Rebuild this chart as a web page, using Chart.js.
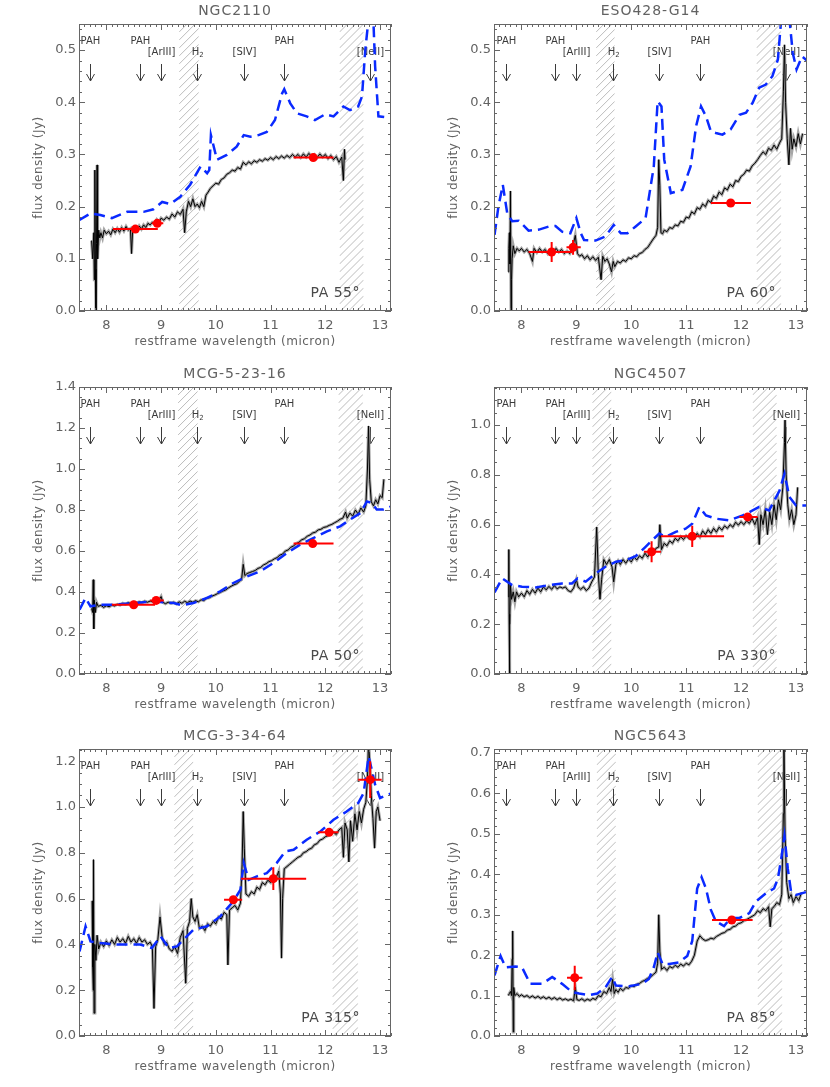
<!DOCTYPE html>
<html>
<head>
<meta charset="utf-8">
<script src="https://cdn.jsdelivr.net/npm/chart.js@4.4.1/dist/chart.umd.min.js"></script>
<style>
  body { margin: 0; background: #fff; width: 830px; height: 1087px; position: relative; overflow: hidden; }
  canvas { position: absolute; }
</style>
</head>
<body>
<canvas id="p1"></canvas>
<canvas id="p2"></canvas>
<canvas id="p3"></canvas>
<canvas id="p4"></canvas>
<canvas id="p5"></canvas>
<canvas id="p6"></canvas>
<script>
// emission features marked in every panel
const lineWave = [7.71, 8.61, 8.99, 9.66, 10.51, 11.25, 12.81];
const lineName = ['PAH', 'PAH', '[ArIII]', 'H2', '[SIV]', 'PAH', '[NeII]'];
const lineRow = [0, 0, 1, 1, 1, 0, 1];
const xTicks = [8, 9, 10, 11, 12, 13];

// ---- NGC2110 ----
const n2110Wave = [7.73,7.75,7.77,7.78,7.79,7.80,7.81,7.82,7.83,7.84,7.86,7.88,7.90,7.93,7.96,
  8.00,8.04,8.08,8.12,8.16,8.20,8.24,8.28,8.32,8.36,8.40,8.44,8.46,8.48,8.52,8.56,8.60,8.64,8.68,8.72,8.76,8.80,8.84,8.88,8.92,8.96,
  9.00,9.05,9.10,9.15,9.20,9.25,9.30,9.35,9.40,9.43,9.46,9.50,9.54,9.58,9.62,9.66,9.70,9.74,9.78,9.82,9.86,9.90,9.95,
  10.00,10.05,10.10,10.15,10.20,10.25,10.30,10.35,10.40,10.45,10.50,10.55,10.60,10.65,10.70,10.75,10.80,10.85,10.90,10.95,
  11.00,11.05,11.10,11.15,11.20,11.25,11.30,11.35,11.40,11.45,11.50,11.55,11.60,11.65,11.70,11.75,11.80,11.85,11.90,11.95,
  12.00,12.05,12.10,12.15,12.20,12.25,12.30,12.33,12.35,12.36];
const n2110Flux = [0.135,0.10,0.15,0.06,0.27,0.08,0.0,0.13,0.28,0.10,0.155,0.14,0.15,0.14,0.155,
  0.148,0.153,0.146,0.157,0.150,0.158,0.151,0.160,0.153,0.162,0.155,0.158,0.110,0.155,0.160,0.155,0.163,0.157,0.165,0.160,0.168,0.165,0.170,0.168,0.175,0.170,
  0.178,0.174,0.180,0.176,0.186,0.180,0.190,0.185,0.195,0.150,0.190,0.210,0.200,0.215,0.200,0.205,0.198,0.210,0.200,0.222,0.228,0.235,0.240,
  0.245,0.243,0.252,0.255,0.262,0.265,0.270,0.268,0.275,0.272,0.285,0.280,0.286,0.282,0.288,0.285,0.290,0.287,0.292,0.289,
  0.294,0.290,0.296,0.292,0.297,0.293,0.298,0.294,0.300,0.295,0.300,0.294,0.301,0.295,0.302,0.296,0.300,0.294,0.301,0.295,
  0.300,0.292,0.298,0.290,0.296,0.285,0.295,0.250,0.310,0.290];
const n2110ModelWave = [7.50,7.71,7.89,8.10,8.38,8.68,8.86,9.02,9.17,9.35,9.53,9.72,9.84,9.88,9.91,10.02,10.20,10.38,10.51,10.63,10.78,10.93,11.08,11.21,11.25,11.36,11.48,11.66,11.81,12.00,12.15,12.33,12.45,12.60,12.67,12.73,12.79,12.87,12.91,12.97,13.21];
const n2110ModelFlux = [0.174,0.187,0.184,0.178,0.190,0.190,0.195,0.209,0.205,0.219,0.242,0.277,0.264,0.270,0.337,0.290,0.299,0.315,0.337,0.334,0.337,0.343,0.366,0.417,0.425,0.398,0.379,0.373,0.366,0.377,0.373,0.392,0.385,0.392,0.411,0.500,0.560,0.580,0.469,0.373,0.370];
const n2110PhotWave = [8.53, 8.93, 11.78];
const n2110PhotFlux = [0.157, 0.168, 0.294];
const n2110PhotLo = [8.12, 8.83, 11.42];
const n2110PhotHi = [8.94, 9.04, 12.15];
const n2110PhotErr = [0, 0, 0];
const n2110Hatch = [[9.33, 9.69], [12.26, 12.70]];

// ---- ESO428-G14 ----
const e428Wave = [7.76,7.77,7.78,7.79,7.80,7.81,7.82,7.83,7.85,7.88,7.92,7.96,
  8.00,8.05,8.10,8.15,8.20,8.23,8.28,8.33,8.38,8.43,8.48,8.53,8.58,8.63,8.68,8.73,8.78,8.83,8.88,8.93,8.98,
  9.02,9.06,9.10,9.15,9.20,9.25,9.30,9.35,9.40,9.45,9.48,9.52,9.56,9.60,9.64,9.67,9.70,9.75,9.80,9.85,9.90,9.95,
  10.00,10.05,10.10,10.15,10.20,10.25,10.30,10.35,10.40,10.45,10.48,10.50,10.52,10.54,10.57,10.60,10.65,10.70,10.75,10.80,10.85,10.90,10.95,
  11.00,11.05,11.10,11.15,11.20,11.25,11.30,11.35,11.40,11.45,11.50,11.55,11.60,11.65,11.70,11.75,11.80,11.85,11.90,11.95,
  12.00,12.05,12.10,12.15,12.20,12.25,12.30,12.35,12.40,12.45,12.50,12.55,12.60,12.65,12.70,12.74,12.77,12.79,12.81,12.84,12.87,12.90,12.93,12.96,
  13.00,13.04,13.08,13.12];
const e428Flux = [0.075,0.12,0.15,0.09,0.23,0.0,0.06,0.10,0.125,0.11,0.12,0.115,
  0.12,0.113,0.118,0.11,0.095,0.12,0.112,0.12,0.113,0.118,0.11,0.117,0.112,0.12,0.113,0.118,0.11,0.115,0.11,0.12,0.145,
  0.11,0.105,0.108,0.10,0.106,0.098,0.104,0.097,0.103,0.06,0.105,0.095,0.10,0.09,0.075,0.095,0.085,0.095,0.092,0.098,0.095,0.102,
  0.10,0.106,0.104,0.11,0.112,0.118,0.122,0.13,0.138,0.145,0.16,0.29,0.24,0.15,0.148,0.155,0.152,0.16,0.158,0.165,0.163,0.172,0.17,
  0.18,0.178,0.19,0.186,0.198,0.195,0.205,0.20,0.212,0.208,0.22,0.216,0.228,0.223,0.236,0.232,0.243,0.238,0.25,0.248,
  0.258,0.262,0.27,0.268,0.278,0.283,0.29,0.298,0.305,0.30,0.312,0.308,0.318,0.31,0.322,0.33,0.42,0.51,0.40,0.33,0.28,0.35,0.31,0.33,
  0.315,0.34,0.32,0.34];
const e428ModelWave = [7.51,7.58,7.66,7.74,7.83,7.95,8.13,8.32,8.50,8.62,8.74,8.89,9.00,9.08,9.14,9.35,9.53,9.68,9.81,9.93,10.08,10.26,10.41,10.48,10.55,10.60,10.72,10.93,11.08,11.18,11.27,11.36,11.45,11.54,11.66,11.81,11.97,12.09,12.21,12.33,12.45,12.57,12.67,12.73,12.79,12.88,12.94,13.01,13.11,13.21];
const e428ModelFlux = [0.146,0.200,0.242,0.188,0.172,0.173,0.154,0.156,0.162,0.163,0.152,0.149,0.178,0.149,0.136,0.135,0.143,0.165,0.149,0.149,0.162,0.178,0.277,0.402,0.392,0.290,0.226,0.232,0.277,0.354,0.392,0.373,0.344,0.341,0.338,0.348,0.376,0.380,0.399,0.428,0.434,0.450,0.482,0.559,0.600,0.560,0.495,0.463,0.488,0.479];
const e428PhotWave = [8.55, 8.94, 11.81];
const e428PhotFlux = [0.113, 0.122, 0.207];
const e428PhotLo = [8.13, 8.82, 11.45];
const e428PhotHi = [8.92, 9.08, 12.18];
const e428PhotErr = [0.019, 0.014, 0];
const e428Hatch = [[9.36, 9.70], [12.28, 12.73]];

// ---- MCG-5-23-16 ----
const m5Wave = [7.73,7.75,7.76,7.77,7.78,7.80,7.82,7.85,7.90,7.95,
  8.00,8.05,8.10,8.15,8.20,8.25,8.30,8.35,8.40,8.45,8.50,8.55,8.60,8.65,8.70,8.75,8.80,8.85,8.90,8.95,
  9.00,9.03,9.08,9.13,9.18,9.23,9.28,9.33,9.38,9.43,9.48,9.53,9.58,9.63,9.68,9.73,9.78,9.83,9.88,9.93,9.98,
  10.03,10.08,10.13,10.18,10.23,10.28,10.33,10.38,10.43,10.47,10.50,10.53,10.57,10.62,10.67,10.72,10.77,10.82,10.87,10.92,10.97,
  11.02,11.07,11.12,11.17,11.22,11.27,11.32,11.37,11.42,11.47,11.52,11.57,11.62,11.67,11.72,11.77,11.82,11.87,11.92,11.97,
  12.02,12.07,12.12,12.17,12.22,12.27,12.32,12.37,12.40,12.45,12.50,12.55,12.60,12.65,12.70,12.74,12.77,12.79,12.81,12.84,12.88,12.92,12.96,
  13.00,13.04,13.07];
const m5Flux = [0.32,0.30,0.46,0.22,0.36,0.30,0.35,0.33,0.335,0.325,
  0.333,0.328,0.336,0.332,0.34,0.336,0.345,0.34,0.348,0.343,0.35,0.345,0.352,0.348,0.355,0.35,0.356,0.352,0.358,0.355,
  0.378,0.35,0.343,0.35,0.345,0.35,0.342,0.352,0.345,0.355,0.348,0.356,0.35,0.358,0.352,0.362,0.358,0.37,0.372,0.38,0.385,
  0.392,0.398,0.405,0.41,0.42,0.428,0.435,0.44,0.452,0.46,0.535,0.48,0.49,0.495,0.50,0.505,0.515,0.52,0.532,0.538,0.548,
  0.553,0.562,0.568,0.58,0.585,0.60,0.605,0.618,0.625,0.636,0.643,0.655,0.66,0.672,0.678,0.688,0.692,0.703,0.706,0.715,
  0.718,0.725,0.73,0.738,0.745,0.755,0.76,0.79,0.76,0.785,0.77,0.80,0.78,0.81,0.79,0.82,1.0,1.21,0.95,0.84,0.82,0.85,0.83,
  0.87,0.86,0.95];
const m5ModelWave = [7.51,7.62,7.71,7.89,8.13,8.50,8.86,9.23,9.38,9.59,9.84,10.08,10.32,10.57,10.81,11.05,11.30,11.54,11.78,12.03,12.27,12.45,12.64,12.76,12.85,12.94,13.06,13.21];
const m5ModelFlux = [0.314,0.371,0.330,0.338,0.338,0.346,0.354,0.346,0.335,0.346,0.371,0.403,0.444,0.476,0.501,0.541,0.590,0.631,0.663,0.696,0.720,0.753,0.785,0.842,0.834,0.802,0.802,0.818];
const m5PhotWave = [8.50, 8.91, 11.77];
const m5PhotFlux = [0.338, 0.359, 0.636];
const m5PhotLo = [8.10, 8.80, 11.42];
const m5PhotHi = [8.89, 9.05, 12.15];
const m5PhotErr = [0, 0, 0];
const m5Hatch = [[9.31, 9.67], [12.24, 12.69]];

// ---- NGC4507 ----
const n4507Wave = [7.76,7.77,7.775,7.78,7.79,7.80,7.82,7.85,7.88,7.91,7.95,
  8.00,8.05,8.10,8.15,8.20,8.25,8.30,8.35,8.40,8.45,8.50,8.55,8.60,8.65,8.70,8.75,8.80,8.85,8.90,8.95,
  9.00,9.03,9.08,9.13,9.18,9.23,9.28,9.33,9.37,9.40,9.43,9.46,9.50,9.55,9.60,9.65,9.68,9.72,9.76,9.80,9.85,9.90,9.95,
  10.00,10.05,10.10,10.15,10.20,10.25,10.30,10.35,10.40,10.45,10.50,10.52,10.55,10.60,10.65,10.70,10.75,10.80,10.85,10.90,10.95,
  11.00,11.05,11.10,11.15,11.20,11.25,11.30,11.35,11.40,11.45,11.50,11.55,11.60,11.65,11.70,11.75,11.80,11.85,11.90,11.95,
  12.00,12.05,12.10,12.15,12.20,12.25,12.30,12.33,12.36,12.40,12.44,12.48,12.52,12.56,12.60,12.64,12.68,12.72,12.76,12.79,12.80,12.82,12.85,12.88,12.92,12.96,
  13.00,13.03];
const n4507Flux = [0.31,0.50,0.24,0.0,0.20,0.36,0.30,0.33,0.29,0.33,0.31,
  0.325,0.31,0.335,0.32,0.34,0.325,0.345,0.33,0.35,0.338,0.352,0.34,0.355,0.342,0.35,0.345,0.35,0.335,0.33,0.345,
  0.38,0.35,0.34,0.35,0.335,0.345,0.37,0.39,0.59,0.40,0.30,0.38,0.46,0.44,0.46,0.43,0.37,0.44,0.455,0.44,0.46,0.445,0.462,
  0.45,0.47,0.458,0.475,0.465,0.485,0.47,0.495,0.485,0.505,0.51,0.60,0.50,0.525,0.515,0.535,0.525,0.545,0.535,0.552,0.54,
  0.555,0.545,0.56,0.548,0.565,0.55,0.575,0.56,0.58,0.565,0.585,0.57,0.59,0.578,0.595,0.585,0.60,0.59,0.61,0.598,
  0.612,0.60,0.615,0.605,0.625,0.60,0.63,0.52,0.64,0.60,0.66,0.56,0.65,0.60,0.68,0.62,0.70,0.66,0.75,0.93,1.02,0.80,0.68,0.62,0.66,0.60,
  0.64,0.75];
const n4507ModelWave = [7.51,7.65,7.83,8.01,8.26,8.50,8.74,8.92,9.02,9.17,9.35,9.53,9.72,9.90,10.08,10.26,10.38,10.51,10.63,10.81,10.99,11.11,11.24,11.36,11.54,11.78,12.03,12.21,12.33,12.51,12.70,12.79,12.88,13.00,13.21];
const n4507ModelFlux = [0.328,0.384,0.357,0.351,0.348,0.357,0.364,0.364,0.384,0.371,0.404,0.431,0.451,0.457,0.473,0.511,0.537,0.564,0.551,0.571,0.584,0.604,0.671,0.637,0.624,0.617,0.637,0.657,0.671,0.657,0.737,0.804,0.711,0.677,0.677];
const n4507PhotWave = [10.37, 11.11, 12.12];
const n4507PhotFlux = [0.491, 0.553, 0.631];
const n4507PhotLo = [10.23, 10.54, 11.97];
const n4507PhotHi = [10.54, 11.69, 12.30];
const n4507PhotErr = [0.042, 0.043, 0];
const n4507Hatch = [[9.29, 9.64], [12.21, 12.65]];

// ---- MCG-3-34-64 ----
const m3Wave = [7.74,7.75,7.76,7.765,7.775,7.79,7.81,7.83,7.86,7.90,7.95,
  8.00,8.05,8.10,8.15,8.20,8.25,8.30,8.35,8.40,8.45,8.50,8.55,8.60,8.65,8.70,8.75,8.80,8.84,8.87,8.90,8.94,8.98,
  9.02,9.06,9.10,9.15,9.20,9.25,9.30,9.35,9.40,9.45,9.48,9.52,9.55,9.58,9.62,9.66,9.70,9.75,9.80,9.85,9.90,9.95,
  10.00,10.05,10.10,10.15,10.20,10.22,10.25,10.30,10.35,10.40,10.45,10.48,10.50,10.52,10.55,10.60,10.65,10.70,10.75,10.80,10.85,10.90,10.95,
  11.00,11.05,11.10,11.15,11.18,11.20,11.22,11.25,11.30,11.35,11.40,11.45,11.50,11.55,11.60,11.65,11.70,11.75,11.80,11.85,11.90,11.95,
  12.00,12.05,12.10,12.15,12.20,12.25,12.30,12.33,12.36,12.40,12.43,12.46,12.50,12.54,12.58,12.62,12.66,12.70,12.74,12.77,12.79,12.81,12.84,12.87,12.90,12.93,12.96,
  13.00];
const m3Flux = [0.59,0.30,0.20,0.77,0.10,0.40,0.33,0.44,0.38,0.41,0.39,
  0.415,0.395,0.42,0.40,0.43,0.41,0.425,0.405,0.435,0.41,0.425,0.405,0.43,0.41,0.42,0.40,0.41,0.39,0.12,0.39,0.42,0.52,
  0.43,0.40,0.41,0.38,0.37,0.39,0.36,0.43,0.46,0.23,0.47,0.50,0.60,0.52,0.50,0.53,0.47,0.48,0.46,0.49,0.48,0.50,
  0.49,0.52,0.51,0.54,0.53,0.31,0.55,0.56,0.57,0.55,0.58,0.75,0.98,0.82,0.62,0.61,0.63,0.62,0.65,0.64,0.67,0.66,0.68,
  0.67,0.70,0.69,0.72,0.62,0.34,0.60,0.73,0.74,0.75,0.76,0.77,0.78,0.785,0.80,0.805,0.815,0.82,0.835,0.84,0.855,0.86,
  0.87,0.875,0.885,0.89,0.88,0.90,0.91,0.78,0.93,0.90,0.76,0.94,0.85,0.97,0.90,0.98,0.93,0.99,1.02,1.12,1.30,1.20,1.05,0.95,0.82,0.98,1.00,
  0.94];
const m3ModelWave = [7.51,7.62,7.71,7.89,8.19,8.62,8.83,8.99,9.14,9.29,9.44,9.59,9.84,10.08,10.32,10.45,10.51,10.60,10.75,10.93,11.11,11.27,11.42,11.66,11.91,12.15,12.39,12.60,12.70,12.79,12.85,12.91,13.00,13.21];
const m3ModelFlux = [0.369,0.479,0.413,0.406,0.399,0.399,0.384,0.435,0.384,0.391,0.428,0.464,0.479,0.522,0.588,0.639,0.755,0.682,0.697,0.711,0.755,0.806,0.813,0.857,0.893,0.944,0.980,1.017,1.060,1.220,1.162,1.097,1.039,1.060];
const m3PhotWave = [10.32, 11.05, 12.07, 12.82];
const m3PhotFlux = [0.595, 0.687, 0.889, 1.119];
const m3PhotLo = [10.15, 10.46, 11.87, 12.60];
const m3PhotHi = [10.48, 11.65, 12.24, 13.03];
const m3PhotErr = [0, 0.05, 0, 0.08];
const m3Hatch = [[9.24, 9.59], [12.13, 12.60]];

// ---- NGC5643 ----
const n5643Wave = [7.76,7.78,7.80,7.82,7.83,7.84,7.85,7.86,7.88,7.92,7.96,
  8.00,8.05,8.10,8.15,8.20,8.25,8.30,8.35,8.40,8.45,8.50,8.55,8.60,8.65,8.70,8.75,8.80,8.85,8.90,8.95,8.98,
  9.01,9.05,9.10,9.15,9.20,9.25,9.30,9.35,9.40,9.45,9.50,9.55,9.60,9.63,9.66,9.69,9.72,9.76,9.80,9.85,9.90,9.95,
  10.00,10.05,10.10,10.15,10.20,10.25,10.30,10.35,10.40,10.45,10.48,10.50,10.52,10.55,10.60,10.65,10.70,10.75,10.80,10.85,10.90,10.95,
  11.00,11.05,11.10,11.15,11.20,11.25,11.30,11.35,11.40,11.45,11.50,11.55,11.60,11.65,11.70,11.75,11.80,11.85,11.90,11.95,
  12.00,12.05,12.10,12.15,12.20,12.25,12.30,12.35,12.40,12.45,12.50,12.53,12.56,12.60,12.65,12.70,12.74,12.77,12.78,12.80,12.83,12.87,12.91,12.95,
  13.00,13.05,13.10];
const n5643Flux = [0.10,0.105,0.11,0.10,0.19,0.26,0.01,0.12,0.10,0.105,0.098,
  0.102,0.097,0.10,0.095,0.099,0.094,0.098,0.093,0.097,0.092,0.096,0.091,0.095,0.09,0.094,0.089,0.092,0.088,0.091,0.087,0.121,
  0.09,0.088,0.092,0.087,0.091,0.088,0.093,0.09,0.10,0.097,0.11,0.105,0.12,0.11,0.14,0.105,0.115,0.108,0.118,0.112,0.12,0.118,
  0.124,0.122,0.128,0.13,0.135,0.138,0.143,0.146,0.152,0.158,0.18,0.30,0.21,0.165,0.17,0.162,0.172,0.168,0.175,0.17,0.178,0.173,
  0.18,0.176,0.185,0.20,0.235,0.248,0.24,0.236,0.238,0.242,0.24,0.246,0.25,0.254,0.256,0.262,0.264,0.27,0.272,0.278,
  0.28,0.285,0.288,0.292,0.296,0.30,0.31,0.305,0.315,0.31,0.32,0.27,0.315,0.32,0.33,0.325,0.35,0.55,0.72,0.50,0.38,0.34,0.35,0.33,
  0.345,0.335,0.355];
const n5643ModelWave = [7.51,7.62,7.71,7.89,8.01,8.16,8.38,8.56,8.74,8.92,9.05,9.23,9.38,9.53,9.65,9.72,9.96,10.20,10.32,10.41,10.48,10.57,10.69,10.87,11.02,11.11,11.20,11.28,11.36,11.45,11.54,11.69,11.81,11.97,12.15,12.27,12.45,12.60,12.67,12.73,12.79,12.85,12.91,13.00,13.21];
const n5643ModelFlux = [0.150,0.198,0.170,0.172,0.170,0.129,0.129,0.146,0.129,0.109,0.105,0.101,0.105,0.120,0.146,0.125,0.123,0.129,0.141,0.170,0.207,0.178,0.178,0.182,0.198,0.235,0.365,0.393,0.365,0.312,0.284,0.272,0.292,0.292,0.304,0.333,0.353,0.365,0.389,0.438,0.495,0.414,0.357,0.349,0.357];
const n5643PhotWave = [8.97, 11.83];
const n5643PhotFlux = [0.144, 0.287];
const n5643PhotLo = [8.83, 11.47];
const n5643PhotHi = [9.11, 12.21];
const n5643PhotErr = [0.03, 0];
const n5643Hatch = [[9.37, 9.72], [12.30, 12.75]];

// y tick labels for the panels
const yTicks05 = [0, 0.1, 0.2, 0.3, 0.4, 0.5];
const yTicks14 = [0, 0.2, 0.4, 0.6, 0.8, 1.0, 1.2, 1.4];
const yTicks10 = [0, 0.2, 0.4, 0.6, 0.8, 1.0];
const yTicks12 = [0, 0.2, 0.4, 0.6, 0.8, 1.0, 1.2];
const yTicks07 = [0, 0.1, 0.2, 0.3, 0.4, 0.5, 0.6, 0.7];

const panels = [
  { id: 'p1', col: 0, row: 0, title: 'NGC2110', pa: 'PA 55°', yMax: 0.55, yTicks: yTicks05, yMinor: 0.02,
    wave: n2110Wave, flux: n2110Flux, mWave: n2110ModelWave, mFlux: n2110ModelFlux,
    pWave: n2110PhotWave, pFlux: n2110PhotFlux, pLo: n2110PhotLo, pHi: n2110PhotHi, pErr: n2110PhotErr, hatch: n2110Hatch },
  { id: 'p2', col: 1, row: 0, title: 'ESO428-G14', pa: 'PA 60°', yMax: 0.55, yTicks: yTicks05, yMinor: 0.02,
    wave: e428Wave, flux: e428Flux, mWave: e428ModelWave, mFlux: e428ModelFlux,
    pWave: e428PhotWave, pFlux: e428PhotFlux, pLo: e428PhotLo, pHi: e428PhotHi, pErr: e428PhotErr, hatch: e428Hatch },
  { id: 'p3', col: 0, row: 1, title: 'MCG-5-23-16', pa: 'PA 50°', yMax: 1.4, yTicks: yTicks14, yMinor: 0.05,
    wave: m5Wave, flux: m5Flux, mWave: m5ModelWave, mFlux: m5ModelFlux,
    pWave: m5PhotWave, pFlux: m5PhotFlux, pLo: m5PhotLo, pHi: m5PhotHi, pErr: m5PhotErr, hatch: m5Hatch },
  { id: 'p4', col: 1, row: 1, title: 'NGC4507', pa: 'PA 330°', yMax: 1.153, yTicks: yTicks10, yMinor: 0.05,
    wave: n4507Wave, flux: n4507Flux, mWave: n4507ModelWave, mFlux: n4507ModelFlux,
    pWave: n4507PhotWave, pFlux: n4507PhotFlux, pLo: n4507PhotLo, pHi: n4507PhotHi, pErr: n4507PhotErr, hatch: n4507Hatch },
  { id: 'p5', col: 0, row: 2, title: 'MCG-3-34-64', pa: 'PA 315°', yMax: 1.253, yTicks: yTicks12, yMinor: 0.05,
    wave: m3Wave, flux: m3Flux, mWave: m3ModelWave, mFlux: m3ModelFlux,
    pWave: m3PhotWave, pFlux: m3PhotFlux, pLo: m3PhotLo, pHi: m3PhotHi, pErr: m3PhotErr, hatch: m3Hatch },
  { id: 'p6', col: 1, row: 2, title: 'NGC5643', pa: 'PA 85°', yMax: 0.71, yTicks: yTicks07, yMinor: 0.02,
    wave: n5643Wave, flux: n5643Flux, mWave: n5643ModelWave, mFlux: n5643ModelFlux,
    pWave: n5643PhotWave, pFlux: n5643PhotFlux, pLo: n5643PhotLo, pHi: n5643PhotHi, pErr: n5643PhotErr, hatch: n5643Hatch }
];

// page layout of the 3x2 grid
const colLeft = [0, 415];
const colPadRight = [24, 23];
const rowTop = [0, 360, 720];
const rowHeight = [360, 360, 367];
const rowPadTop = [24, 27, 29];
const rowAxisH = [49, 46, 51];

const FONT = '"DejaVu Sans", sans-serif';
const TXT = '#626262';

function pts(xs, ys) {
  return xs.map((v, i) => ({ x: v, y: ys[i] }));
}

function errBars(p) {
  const out = [];
  p.pWave.forEach((w, i) => {
    out.push({ x: p.pLo[i], y: p.pFlux[i] }, { x: p.pHi[i], y: p.pFlux[i] }, { x: p.pHi[i], y: null });
    if (p.pErr[i] > 0) {
      out.push({ x: w, y: p.pFlux[i] - p.pErr[i] }, { x: w, y: p.pFlux[i] + p.pErr[i] }, { x: w, y: null });
    }
  });
  return out;
}

function decoFor(p) {
  return {
    id: 'deco',
    beforeDatasetsDraw(chart) {
      const { ctx, chartArea: a, scales: { x } } = chart;
      ctx.save();
      // hatched (excluded) bands
      ctx.strokeStyle = '#bcbcbc';
      ctx.lineWidth = 1;
      p.hatch.forEach(r => {
        const x0 = x.getPixelForValue(r[0]), x1 = x.getPixelForValue(r[1]), w = x1 - x0;
        ctx.save();
        ctx.beginPath();
        ctx.rect(x0, a.top, w, a.bottom - a.top);
        ctx.clip();
        ctx.beginPath();
        for (let k = a.top; k < a.bottom + w + 8; k += 8) {
          ctx.moveTo(x0, k);
          ctx.lineTo(x1, k - w);
        }
        ctx.stroke();
        ctx.restore();
      });
      // line identifications with arrows
      ctx.strokeStyle = '#3a3a3a';
      ctx.fillStyle = '#3a3a3a';
      ctx.textAlign = 'center';
      ctx.textBaseline = 'middle';
      lineWave.forEach((w, i) => {
        const px = Math.round(x.getPixelForValue(w)) + 0.5;
        const ly = a.top + (lineRow[i] ? 28.5 : 17);
        ctx.font = '10px ' + FONT;
        if (lineName[i] === 'H2') {
          ctx.fillText('H', px - 2, ly);
          ctx.font = '7px ' + FONT;
          ctx.fillText('2', px + 4, ly + 3);
        } else {
          ctx.fillText(lineName[i], px, ly);
        }
        ctx.beginPath();
        ctx.moveTo(px, a.top + 40);
        ctx.lineTo(px, a.top + 57);
        ctx.moveTo(px - 4, a.top + 50);
        ctx.lineTo(px, a.top + 57);
        ctx.lineTo(px + 4, a.top + 50);
        ctx.stroke();
      });
      // position angle
      ctx.fillStyle = '#4a4a4a';
      ctx.font = '14px ' + FONT;
      ctx.letterSpacing = '0.5px';
      ctx.textAlign = 'right';
      ctx.fillText(p.pa, a.right - 31, a.bottom - 18);
      ctx.restore();
    },
    afterDraw(chart) {
      const { ctx, chartArea: a, scales: { x, y } } = chart;
      ctx.save();
      ctx.strokeStyle = '#666';
      ctx.lineWidth = 1;
      ctx.strokeRect(a.left + 0.5, a.top + 0.5, a.right - a.left - 1, a.bottom - a.top - 1);
      ctx.beginPath();
      for (let k = 75; k <= 132; k++) {
        const px = Math.round(x.getPixelForValue(k / 10)) + 0.5;
        const len = k % 10 === 0 ? 6 : 3;
        ctx.moveTo(px, a.bottom); ctx.lineTo(px, a.bottom - len);
        ctx.moveTo(px, a.top); ctx.lineTo(px, a.top + len);
      }
      const nMinor = Math.floor(p.yMax / p.yMinor + 1e-6);
      const step = p.yTicks[1] - p.yTicks[0];
      for (let k = 0; k <= nMinor; k++) {
        const v = k * p.yMinor;
        const py = Math.round(y.getPixelForValue(v)) + 0.5;
        const r = v / step;
        const len = Math.abs(r - Math.round(r)) < 1e-6 ? 6 : 3;
        ctx.moveTo(a.left, py); ctx.lineTo(a.left + len, py);
        ctx.moveTo(a.right, py); ctx.lineTo(a.right - len, py);
      }
      ctx.stroke();
      // titles
      ctx.fillStyle = TXT;
      ctx.textAlign = 'center';
      ctx.textBaseline = 'middle';
      ctx.font = '14px ' + FONT;
      ctx.letterSpacing = '1px';
      ctx.fillText(p.title, (a.left + a.right) / 2, a.top - 13);
      ctx.font = '12px ' + FONT;
      ctx.letterSpacing = '0.5px';
      ctx.fillText('restframe wavelength (micron)', (a.left + a.right) / 2, a.bottom + 31);
      ctx.translate(a.left - 40, (a.top + a.bottom) / 2);
      ctx.rotate(-Math.PI / 2);
      ctx.fillText('flux density (Jy)', 0, 0);
      ctx.restore();
    }
  };
}

panels.forEach(p => {
  const canvas = document.getElementById(p.id);
  const w = 415, h = rowHeight[p.row];
  canvas.width = w;
  canvas.height = h;
  canvas.style.left = colLeft[p.col] + 'px';
  canvas.style.top = rowTop[p.row] + 'px';
  const axisH = rowAxisH[p.row];
  new Chart(canvas, {
    type: 'line',
    data: {
      datasets: [
        { data: pts(p.pWave, p.pFlux), showLine: false, pointRadius: 4.5, pointBackgroundColor: '#ff0000', pointBorderWidth: 0, borderColor: '#ff0000' },
        { data: errBars(p), borderColor: '#ff0000', borderWidth: 2, pointRadius: 0, spanGaps: false },
        { data: pts(p.mWave, p.mFlux), borderColor: '#0a2aff', borderWidth: 2.5, borderDash: [11, 6], pointRadius: 0 },
        { data: pts(p.wave, p.flux), borderColor: '#000', borderWidth: 1, pointRadius: 0 },
        { data: pts(p.wave, p.flux), borderColor: '#a6a6a6', borderWidth: 3, pointRadius: 0 }
      ]
    },
    options: {
      responsive: false,
      animation: false,
      events: [],
      layout: { padding: { top: rowPadTop[p.row], right: colPadRight[p.col], left: 0, bottom: 0 } },
      elements: { line: { tension: 0 } },
      scales: {
        x: {
          type: 'linear', min: 7.5, max: 13.2,
          afterFit: s => { s.height = axisH; },
          afterBuildTicks: s => { s.ticks = xTicks.map(v => ({ value: v })); },
          grid: { display: false, drawTicks: false },
          border: { display: false },
          ticks: { color: TXT, padding: 7, maxRotation: 0, font: { family: 'DejaVu Sans', size: 13 }, callback: v => v.toFixed(0) }
        },
        y: {
          min: 0, max: p.yMax,
          afterFit: s => { s.width = 79; },
          afterBuildTicks: s => { s.ticks = p.yTicks.map(v => ({ value: v })); },
          grid: { display: false, drawTicks: false },
          border: { display: false },
          ticks: { color: TXT, padding: 3, font: { family: 'DejaVu Sans', size: 13 }, callback: v => v.toFixed(1) }
        }
      },
      plugins: { legend: { display: false }, tooltip: { enabled: false } }
    },
    plugins: [decoFor(p)]
  });
});
</script>
</body>
</html>
